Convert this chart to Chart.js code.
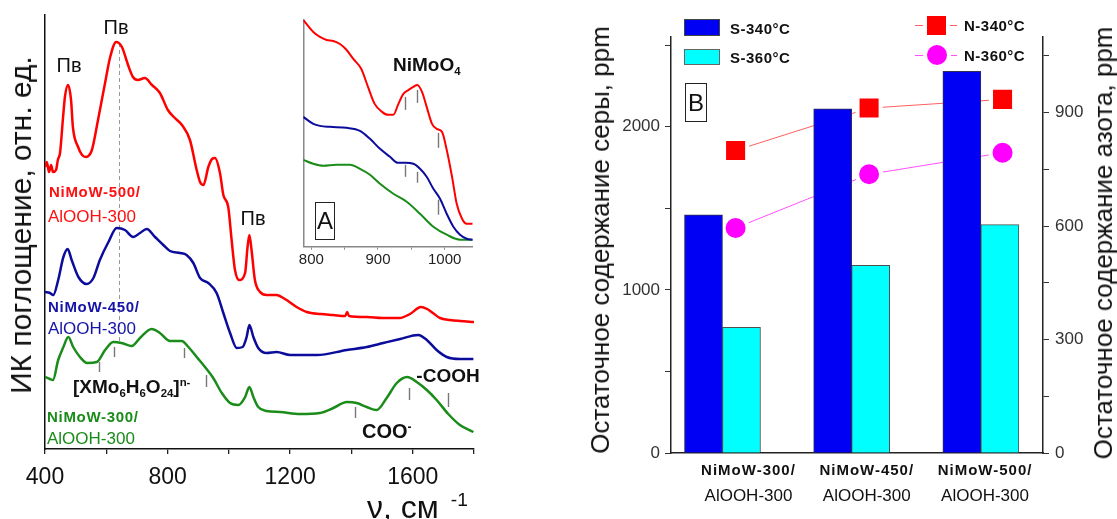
<!DOCTYPE html>
<html><head><meta charset="utf-8">
<script src="https://cdn.jsdelivr.net/npm/chart.js@4.4.0/dist/chart.umd.min.js"></script>
<style>
body{margin:0;background:#fff;}
#fig{position:relative;width:1117px;height:519px;overflow:hidden;font-family:"Liberation Sans",Arial,sans-serif;color:#111;}
canvas{position:absolute;}
.t{position:absolute;white-space:nowrap;line-height:1;}
.c{transform:translate(-50%,-50%);}
.l{transform:translateY(-50%);}
.b{font-weight:bold;}
.rot{transform:translate(-50%,-50%) rotate(-90deg);}
.box{position:absolute;border:1.5px solid #222;display:flex;align-items:center;justify-content:center;font-size:24px;box-sizing:border-box;}
sub,sup{font-size:0.6em;line-height:0;position:relative;vertical-align:baseline;}
sub{top:0.35em;} sup{top:-0.6em;}
.sw{position:absolute;box-sizing:border-box;border:1px solid #444;}
.ln{position:absolute;height:0;}
</style></head><body>
<div id="fig">
<canvas id="ir" width="500" height="519" style="left:0;top:0"></canvas>
<canvas id="ins" width="240" height="280" style="left:260px;top:0"></canvas>
<canvas id="hds" width="557" height="519" style="left:560px;top:0"></canvas>

<!-- panel A labels -->
<div class="t rot" style="left:21px;top:225px;font-size:30px">ИК поглощение, отн. ед.</div>
<div class="t c" style="left:69px;top:65px;font-size:20px">Пв</div>
<div class="t c" style="left:116px;top:27px;font-size:20px">Пв</div>
<div class="t c" style="left:253px;top:218px;font-size:20px">Пв</div>
<div class="t l b" style="left:49px;top:191px;font-size:15px;letter-spacing:0.7px;color:#ff1010">NiMoW-500/</div>
<div class="t l" style="left:48px;top:216px;font-size:17px;color:#ff1010">AlOOH-300</div>
<div class="t l b" style="left:48px;top:306px;font-size:15px;letter-spacing:0.7px;color:#1414a8">NiMoW-450/</div>
<div class="t l" style="left:48px;top:328px;font-size:17px;color:#1414a8">AlOOH-300</div>
<div class="t l b" style="left:47px;top:416px;font-size:15px;letter-spacing:0.7px;color:#1a8c1a">NiMoW-300/</div>
<div class="t l" style="left:47px;top:438px;font-size:17px;color:#1a8c1a">AlOOH-300</div>
<div class="t l b" style="left:73px;top:386px;font-size:19px">[XMo<sub>6</sub>H<sub>6</sub>O<sub>24</sub>]<sup>n-</sup></div>
<div class="t c b" style="left:448px;top:375px;font-size:19px">-COOH</div>
<div class="t l b" style="left:362px;top:431px;font-size:20px">COO<sup>-</sup></div>
<div class="t l b" style="left:393px;top:64px;font-size:19px">NiMoO<sub>4</sub></div>
<div class="box" style="left:315px;top:202px;width:20px;height:38px">A</div>
<div class="t" style="left:367px;top:491px;font-size:32px">ν, см<sup style="margin-left:12px">-1</sup></div>

<!-- panel B labels -->
<div class="t rot" style="left:600px;top:240px;font-size:26px">Остаточное содержание серы, ppm</div>
<div class="t rot" style="left:1103px;top:243px;font-size:26px">Остаточное содержание азота, ppm</div>
<div class="sw" style="left:684px;top:19px;width:36px;height:17px;background:#0000f5"></div>
<div class="sw" style="left:684px;top:49px;width:36px;height:16px;background:#00ffff;border-color:#666"></div>
<div class="t l b" style="left:730px;top:28px;font-size:15px;letter-spacing:0.5px">S-340°C</div>
<div class="t l b" style="left:730px;top:57px;font-size:15px;letter-spacing:0.5px">S-360°C</div>
<div class="ln" style="left:915px;top:25px;width:42px;border-top:1px solid #ff6060"></div>
<div class="sw" style="left:927px;top:15.5px;width:19px;height:19px;background:#ff0000;border:none;box-shadow:0 0 0 4px #fff"></div>
<div class="ln" style="left:915px;top:55px;width:42px;border-top:1px solid #ff50ff"></div>
<div class="sw" style="left:926.5px;top:45px;width:20px;height:20px;background:#ff00ff;border:none;border-radius:50%;box-shadow:0 0 0 4px #fff"></div>
<div class="t l b" style="left:964px;top:25px;font-size:15px;letter-spacing:0.5px">N-340°C</div>
<div class="t l b" style="left:964px;top:55px;font-size:15px;letter-spacing:0.5px">N-360°C</div>
<div class="box" style="left:685px;top:83px;width:22px;height:39px">B</div>
</div>

<script>
// ---- panel A: IR spectra, wavenumber (cm-1) vs absorbance (a.u.) ----
const wn500 = [400,406,413,420,426,436,442,449,459,465,475,485,491,508,521,534,553,573,596,612,632,651,671,687,703,726,749,775,801,824,847,873,895,906,917,933,945,955,971,982,998,1009,1020,1034,1053,1061,1067,1074,1085,1102,1123,1156,1183,1221,1254,1300,1340,1380,1386,1392,1451,1500,1558,1591,1627,1647,1666,1689,1722,1754,1800];
const abs500 = [2.82,2.87,2.77,2.84,2.77,2.79,2.89,2.96,3.32,3.52,3.64,3.49,3.22,3.02,2.94,2.92,2.99,3.29,3.66,3.91,4.07,4.02,3.84,3.72,3.69,3.71,3.64,3.56,3.39,3.31,3.24,3.09,2.79,2.67,2.64,2.82,2.90,2.91,2.76,2.54,2.42,2.09,1.79,1.69,1.76,2.02,2.14,1.99,1.69,1.57,1.54,1.54,1.50,1.42,1.37,1.35,1.34,1.33,1.37,1.33,1.32,1.31,1.31,1.35,1.42,1.40,1.36,1.31,1.29,1.28,1.27];
const wn450 = [400,416,427,443,460,474,487,509,536,558,579,607,634,661,688,710,732,759,786,808,841,862,884,906,933,960,982,1004,1026,1045,1058,1067,1080,1096,1123,1156,1200,1287,1385,1450,1504,1559,1618,1646,1678,1711,1754,1798];
const abs450 = [1.57,1.56,1.54,1.69,1.92,2.00,1.89,1.72,1.65,1.71,1.89,2.07,2.21,2.19,2.12,2.16,2.20,2.12,2.04,1.98,1.96,1.94,1.86,1.71,1.66,1.56,1.36,1.16,1.01,1.02,1.12,1.24,1.12,1.01,0.96,0.97,0.94,0.94,0.99,1.02,1.06,1.10,1.14,1.09,0.99,0.92,0.90,0.90];
const wn300 = [400,416,426,443,460,476,492,514,538,569,596,623,650,683,710,748,775,808,846,868,895,922,949,977,1004,1031,1053,1067,1080,1096,1123,1167,1232,1297,1341,1385,1417,1450,1482,1515,1548,1582,1613,1646,1678,1716,1754,1798];
const abs300 = [0.72,0.70,0.69,0.89,1.02,1.12,1.02,0.92,0.86,0.87,0.99,1.07,1.06,1.03,1.11,1.20,1.16,1.08,1.08,1.02,0.92,0.82,0.71,0.56,0.46,0.44,0.52,0.62,0.52,0.42,0.38,0.37,0.35,0.36,0.41,0.47,0.46,0.42,0.39,0.51,0.66,0.72,0.67,0.59,0.49,0.35,0.24,0.17];
const irTicks = [400,600,800,1000,1200,1400,1600,1800];
const irLabels = [400,800,1200,1600];
// band marks [wavenumber, top, bottom]
const bandMarks = [[577,0.87,0.77],[625,1.02,0.92],[855,1.01,0.91],[925,0.74,0.62],[1412,0.42,0.31],[1589,0.61,0.49],[1716,0.56,0.42]];
const dashLine = [640, 4.06, 1.06];

// inset 790-1040 cm-1
const insWn500 = [788,803,813,823,833,843,853,863,875,885,895,906,915,923,930,938,946,953,959,966,973,981,988,996,1003,1011,1018,1026,1033,1042];
const insAbs500 = [2.27,2.15,2.10,2.07,2.06,2.03,1.97,1.88,1.78,1.60,1.43,1.35,1.32,1.32,1.42,1.53,1.57,1.60,1.62,1.55,1.40,1.23,1.18,1.15,0.97,0.70,0.43,0.28,0.23,0.23];
const insWn450 = [788,803,813,828,853,873,888,903,918,930,941,953,963,973,983,993,1003,1013,1023,1033,1042];
const insAbs450 = [1.30,1.23,1.21,1.20,1.19,1.16,1.08,0.98,0.90,0.84,0.84,0.83,0.78,0.70,0.58,0.48,0.33,0.20,0.12,0.08,0.07];
const insWn300 = [788,803,818,838,858,873,888,903,923,943,963,983,1003,1023,1042];
const insAbs300 = [0.87,0.83,0.81,0.82,0.82,0.78,0.72,0.63,0.53,0.45,0.33,0.20,0.12,0.07,0.07];
const insTicks = [800,850,900,950,1000];
const insLabels = [800,900,1000];
const insMarks = [[940,1.50,1.37],[958,1.57,1.44],[990,1.14,0.99],[940,0.82,0.70],[958,0.75,0.64],[990,0.47,0.32]];

// ---- panel B: residual S and N, ppm ----
const categories = [['NiMoW-300/','AlOOH-300'],['NiMoW-450/','AlOOH-300'],['NiMoW-500/','AlOOH-300']];
const sulfur340 = [1460, 2110, 2340];
const sulfur360 = [770, 1150, 1400];
const nitrogen340 = [800, 912, 935];
const nitrogen360 = [595, 737, 794];
const sTicks = [0,500,1000,1500,2000,2500];
const sLabels = [0,1000,2000];
const nTicks = [0,150,300,450,600,750,900,1050];
const nLabels = [0,300,600,900];

Chart.defaults.font.family = '"Liberation Sans", Arial, sans-serif';
Chart.defaults.color = '#111';

const xy = (xs, ys) => xs.map((x,i)=>({x, y: ys[i]}));
const idx = (ys) => ys.map((y,i)=>({x:i, y}));
const fixTicks = (list) => (s) => { s.ticks = list.map(v => ({value: v})); };
const onlyLabels = (list) => (v) => list.includes(Math.round(v)) ? String(Math.round(v)) : '';
// invisible helper axis, laid out like a real one but with zero height
const ghostX = (min, max) => ({ type:'linear', min, max, offset:false, position:'bottom',
  ticks:{display:false}, grid:{display:false}, border:{display:false}, afterFit: s => { s.height = 0; } });

const marksPlugin = {
  id: 'marks',
  beforeDatasetsDraw(chart, a, opts){
    if(!opts.dash) return;
    const {ctx, scales:{x,y}} = chart;
    const px = Math.round(x.getPixelForValue(opts.dash[0])) + 0.5;
    ctx.save();
    ctx.strokeStyle = '#999'; ctx.lineWidth = 1; ctx.setLineDash([4,3]);
    ctx.beginPath(); ctx.moveTo(px, y.getPixelForValue(opts.dash[1])); ctx.lineTo(px, y.getPixelForValue(opts.dash[2])); ctx.stroke();
    ctx.restore();
  },
  afterDatasetsDraw(chart, a, opts){
    const {ctx, scales:{x,y}} = chart;
    ctx.save();
    ctx.strokeStyle = '#777'; ctx.lineWidth = 1.4;
    (opts.ticks||[]).forEach(m=>{
      const px = Math.round(x.getPixelForValue(m[0])) + 0.5;
      ctx.beginPath(); ctx.moveTo(px, y.getPixelForValue(m[1])); ctx.lineTo(px, y.getPixelForValue(m[2])); ctx.stroke();
    });
    ctx.restore();
  }
};

const curve = (data, color, w) => ({data, borderColor: color, borderWidth: w, pointRadius: 0, cubicInterpolationMode: 'monotone', fill: false});

new Chart(document.getElementById('ir'), {
  type: 'line',
  data: { datasets: [
    curve(xy(wn500, abs500), '#ff0000', 2.5),
    curve(xy(wn450, abs450), '#0c0c9c', 2.5),
    curve(xy(wn300, abs300), '#1a8c1a', 2.5)
  ]},
  options: {
    responsive: false, animation: false,
    layout: { padding: { top: 15, right: 26, left: 0, bottom: 0 } },
    plugins: { legend: {display:false}, tooltip: {enabled:false}, marks: { ticks: bandMarks, dash: dashLine } },
    scales: {
      x: { type:'linear', min:400, max:1800,
        afterBuildTicks: fixTicks(irTicks),
        ticks: { autoSkip:false, maxRotation:0, font:{size:23}, color:'#111', padding:10, callback: onlyLabels(irLabels) },
        grid: { display:true, drawOnChartArea:false, tickLength:5, color:'#222', lineWidth:1.3 },
        border: { display:true, color:'#111', width:1.5 },
        afterFit: s => { s.height = 70; } },
      y: { min:0, max:4.34, ticks:{display:false}, grid:{display:false},
        border: { display:true, color:'#111', width:1.5 },
        afterFit: s => { s.width = 45; } }
    }
  },
  plugins: [marksPlugin]
});

new Chart(document.getElementById('ins'), {
  type: 'line',
  data: { datasets: [
    curve(xy(insWn500, insAbs500), '#ff0000', 2),
    curve(xy(insWn450, insAbs450), '#0c0c9c', 2),
    curve(xy(insWn300, insAbs300), '#1a8c1a', 2)
  ]},
  options: {
    responsive: false, animation: false,
    layout: { padding: { top: 20, right: 27.3, left: 0, bottom: 0 } },
    plugins: { legend: {display:false}, tooltip: {enabled:false}, marks: { ticks: insMarks } },
    scales: {
      x: { type:'linear', min:788, max:1042,
        afterBuildTicks: fixTicks(insTicks),
        ticks: { autoSkip:false, maxRotation:0, font:{size:15}, color:'#222', padding:1, callback: onlyLabels(insLabels) },
        grid: { display:true, drawOnChartArea:false, tickLength:3, color:'#888' },
        border: { display:true, color:'#888', width:1.5 },
        afterFit: s => { s.height = 33.3; } },
      y: { min:0, max:2.27, ticks:{display:false}, grid:{display:false},
        border: { display:true, color:'#888', width:1.5 },
        afterFit: s => { s.width = 43.3; } }
    }
  },
  plugins: [marksPlugin]
});

const catPlugin = {
  id: 'cats',
  afterDraw(chart){
    const {ctx, chartArea} = chart, s = chart.scales.xl;
    ctx.save();
    ctx.textAlign = 'center'; ctx.textBaseline = 'middle'; ctx.fillStyle = '#111';
    categories.forEach((c,i)=>{
      const px = s.getPixelForValue(i);
      ctx.font = 'bold 15px "Liberation Sans", Arial';
      ctx.letterSpacing = '1px';
      ctx.fillText(c[0], px, chartArea.bottom + 18);
      ctx.font = '17px "Liberation Sans", Arial';
      ctx.letterSpacing = '0px';
      ctx.fillText(c[1], px, chartArea.bottom + 43);
    });
    ctx.restore();
  }
};

new Chart(document.getElementById('hds'), {
  type: 'bar',
  data: { datasets: [
    { type:'line', label:'N-340°C', data: idx(nitrogen340), xAxisID:'xn', yAxisID:'yn', order:2,
      borderColor:'#ff6060', borderWidth:1, pointStyle:'rect', pointRadius:16.3,
      pointBackgroundColor:'#ff0000', pointBorderColor:'#fff', pointBorderWidth:4, fill:false },
    { type:'line', label:'N-360°C', data: idx(nitrogen360), xAxisID:'xn', yAxisID:'yn', order:2,
      borderColor:'#ff50ff', borderWidth:1, pointStyle:'circle', pointRadius:12,
      pointBackgroundColor:'#ff00ff', pointBorderColor:'#fff', pointBorderWidth:4, fill:false },
    { label:'S-340°C', data: idx(sulfur340), xAxisID:'x', yAxisID:'y', order:1,
      backgroundColor:'#0000f5', borderColor:'#303050', borderWidth:1, barThickness:38 },
    { label:'S-360°C', data: idx(sulfur360), xAxisID:'x', yAxisID:'y', order:1,
      backgroundColor:'#00ffff', borderColor:'#505050', borderWidth:1, barThickness:38 }
  ]},
  options: {
    responsive: false, animation: false,
    layout: { padding: { top: 37, right: 0, left: 0, bottom: 0 } },
    plugins: { legend: {display:false}, tooltip: {enabled:false} },
    scales: {
      x: { type:'linear', min:-0.3986, max:2.481, offset:false,
        ticks:{display:false}, grid:{display:false},
        border:{display:true, color:'#222', width:1.5},
        afterFit: s => { s.height = 66; } },
      xn: ghostX(-0.484, 2.303),
      xl: ghostX(-0.655, 2.49),
      y: { position:'left', min:0, max:2550,
        afterBuildTicks: fixTicks(sTicks),
        ticks: { autoSkip:false, font:{size:17}, color:'#333', padding:5, callback: onlyLabels(sLabels) },
        grid: { display:true, drawOnChartArea:false, tickLength:6, color:'#333' },
        border: { display:true, color:'#222', width:1.5 },
        afterFit: s => { s.width = 111; } },
      yn: { position:'right', min:0, max:1100,
        afterBuildTicks: fixTicks(nTicks),
        ticks: { autoSkip:false, font:{size:17}, color:'#333', padding:6, callback: onlyLabels(nLabels) },
        grid: { display:true, drawOnChartArea:false, tickLength:6, color:'#333' },
        border: { display:true, color:'#222', width:1.5 },
        afterFit: s => { s.width = 74; } }
    }
  },
  plugins: [catPlugin]
});
</script>
</body></html>
